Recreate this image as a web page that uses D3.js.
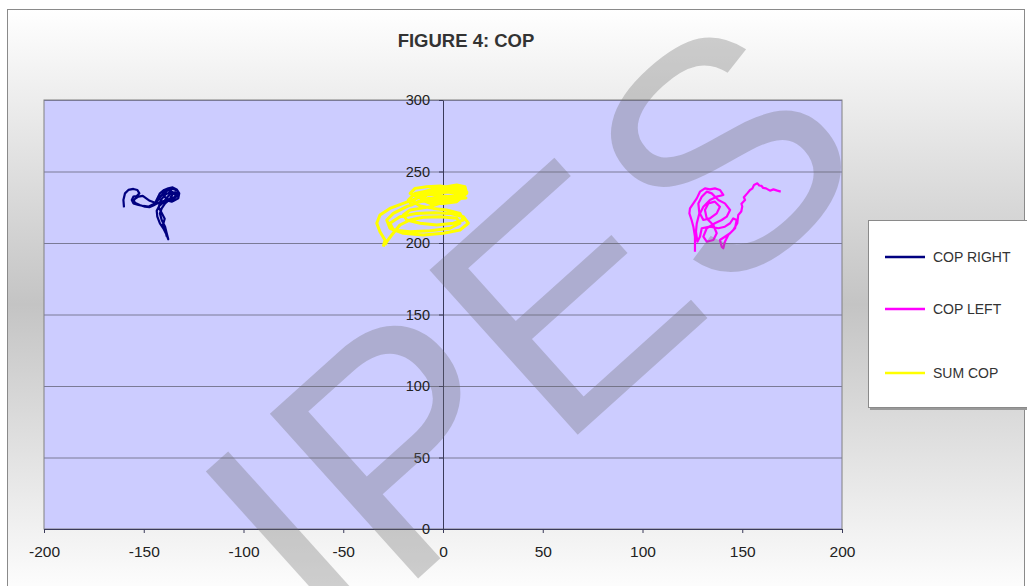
<!DOCTYPE html>
<html>
<head>
<meta charset="utf-8">
<script src="https://cdn.jsdelivr.net/npm/d3@7"></script>
<style>
  body { margin: 0; background: #fff; }
  svg { display: block; font-family: "Liberation Sans", Arial, sans-serif; }
</style>
</head>
<body>
<svg id="chart" width="1027" height="586"></svg>
<script>
// ticks
const xTicks = [-200, -150, -100, -50, 0, 50, 100, 150, 200];
const yTicks = [0, 50, 100, 150, 200, 250, 300];

// series: [x, y] pairs
const copRight = [
  [-159.9,224.9],[-160.2,230.1],[-159.4,234.7],[-157.7,237.1],[-155.2,237.8],[-153.2,237.1],
  [-152.2,234.7],[-153.5,232.9],[-155.2,232.4],[-156.0,230.1],[-155.2,227.7],[-152.7,226.6],
  [-150.2,225.9],[-147.7,225.4],[-146.0,226.6],[-144.4,227.7],[-143.2,231.2],[-141.9,234.7],
  [-139.8,237.1],[-137.7,238.2],[-135.5,238.9],[-133.5,237.5],[-132.2,234.7],[-132.7,231.2],
  [-134.3,230.1],[-136.0,228.9],[-137.7,229.6],[-139.3,227.7],[-141.0,224.2],[-141.9,220.7],
  [-141.0,216.1],[-139.3,211.4],[-138.5,206.8],[-137.7,202.6],[-138.5,205.6],[-140.2,210.3],
  [-141.9,213.7],[-143.2,218.4],[-143.5,222.5],[-142.2,226.0],[-140.2,228.4],[-138.5,231.5],
  [-136.8,234.2],[-134.3,235.5],[-133.2,233.6],[-134.8,231.9],[-136.8,231.2],[-138.8,229.8],
  [-141.0,228.9],[-143.2,227.7],[-145.2,226.2],[-147.2,225.1],[-149.4,225.4],[-152.0,226.6],
  [-153.9,227.7],[-155.2,229.3],[-154.4,230.8],[-152.7,232.4],[-150.5,233.0],[-147.0,229.5],
  [-144.0,228.0],[-141.5,232.5],[-139.5,236.0],[-137.0,237.0],[-135.0,235.0],[-136.5,232.0],
  [-136.5,230.5],[-133.5,232.5],[-133.0,236.5],[-135.5,238.0],[-138.5,236.5],[-140.0,233.0],
  [-138.0,230.5],[-135.0,229.5],[-134.0,233.5],[-136.0,236.0],[-139.0,234.0],[-141.5,230.0],
  [-142.5,225.0],[-141.0,221.0],[-139.5,217.0],[-140.5,212.0],[-139.0,208.0],[-138.5,204.5]
];

const copLeft = [
  [126.3,193.9],[126.3,204.4],[125.5,211.4],[124.6,216.1],[123.5,220.7],[123.8,224.2],
  [125.5,227.7],[127.2,231.2],[128.8,235.9],[131.3,238.2],[133.8,237.5],[136.3,238.2],
  [138.8,237.1],[140.5,233.6],[137.2,232.4],[133.8,230.1],[130.5,225.4],[128.8,220.7],
  [130.5,216.1],[133.8,217.2],[137.2,220.7],[138.8,225.4],[136.3,228.9],[133.0,227.7],
  [131.3,223.1],[132.2,217.2],[135.5,212.6],[137.2,206.8],[135.5,202.1],[132.2,200.9],
  [130.5,204.4],[132.2,210.3],[136.3,213.8],[139.7,216.1],[142.2,218.4],[143.9,223.1],
  [141.3,227.7],[138.0,230.1],[134.7,234.7],[132.2,235.9],[129.7,232.4],[128.0,227.7],
  [128.5,220.7],[127.2,213.7],[126.8,207.9],[127.5,200.9],[128.8,204.4],[129.7,210.3],
  [133.8,211.4],[138.0,210.3],[141.3,211.4],[143.9,213.8],[145.5,217.2],[147.2,216.1],
  [146.4,210.3],[143.9,206.8],[141.3,204.4],[138.8,202.1],[139.7,197.4],[140.5,196.3],
  [141.3,200.9],[143.0,205.6],[145.5,209.1],[147.5,213.8],[148.0,219.6],[149.5,222.0],
  [150.0,225.5],[149.6,227.5],[151.4,230.1],[150.8,232.0],[152.5,234.7],[153.9,237.1],
  [155.0,238.0],[155.9,240.6],[157.6,241.7],[158.5,240.2],[159.7,239.9],[160.5,238.5],
  [161.9,238.2],[163.9,236.6],[165.6,237.5],[167.6,236.6],[169.3,235.9]
];

const sumCop = [
  [-29.9,197.4],[-29.1,202.1],[-31.6,207.9],[-33.2,213.8],[-31.6,219.6],[-26.6,224.2],
  [-19.9,227.7],[-13.2,231.2],[-8.2,234.7],[-3.2,237.1],[1.8,239.4],[6.9,240.6],
  [11.0,239.4],[11.9,234.7],[8.5,231.2],[3.5,228.9],[-1.5,227.7],[-6.5,225.4],
  [-11.5,224.2],[-16.5,223.1],[-19.9,219.6],[-18.2,216.1],[-11.5,213.8],[-3.2,212.6],
  [5.2,213.8],[10.2,216.1],[8.5,220.7],[1.8,223.1],[-4.8,224.2],[-11.5,225.9],
  [-14.9,228.9],[-12.4,233.6],[-6.5,237.1],[0.2,238.2],[6.9,237.5],[9.4,233.6],
  [5.2,230.1],[-1.5,228.9],[-8.2,230.1],[-13.2,232.4],[-16.5,234.7],[-14.0,238.2],
  [-8.2,239.4],[-1.5,239.9],[3.5,238.9],[8.5,236.6],[11.0,233.6],[6.9,228.9],
  [0.2,227.7],[-6.5,227.7],[-10.7,230.1],[-8.2,233.6],[-1.5,235.2],[5.2,235.9],
  [8.5,234.3],[5.2,232.4],[-1.5,231.9],[-7.3,231.2],[-12.4,228.9],[-15.7,226.6],
  [-17.4,230.1],[-14.0,234.7],[-7.3,236.6],[-0.7,236.6],[6.0,234.7],[10.2,236.6],
  [-9.0,236.0],[-3.0,238.5],[4.0,239.5],[10.0,238.0],[12.0,235.5],[8.0,233.0],
  [2.0,232.5],[-4.0,233.5],[-10.0,235.0],[-12.0,232.0],[-6.0,229.5],[0.5,230.0],
  [7.0,231.0],[11.5,231.5],
  [7.7,232.4],[1.8,230.5],[-4.8,230.5],[-11.5,228.9],[-18.2,225.4],[-24.9,220.7],
  [-28.2,216.1],[-26.6,210.3],[-19.9,206.8],[-9.9,205.6],[0.2,206.8],[8.5,209.1],
  [12.7,213.8],[10.2,218.4],[3.5,220.7],[-4.8,221.2],[-13.2,220.7],[-21.6,218.4],
  [-26.6,213.8],[-24.9,209.1],[-16.5,207.9],[-6.5,208.6],[3.5,210.3],[8.5,213.8],
  [6.9,217.3],[-1.5,218.4],[-9.9,218.0],[-16.5,216.1],[-21.6,212.6],[-25.7,205.6],
  [-28.2,200.9],[-29.1,198.6]
];

const seriesNames = ["COP RIGHT", "COP LEFT", "SUM COP"];
const seriesColors = ["#000080", "#ff00ff", "#ffff00"];

let svg = d3.select("#chart");

// chart area gradient (white - grey - white)
const defs = svg.append("defs");
const grad = defs.append("linearGradient")
  .attr("id", "bg").attr("x1", 0).attr("y1", 0).attr("x2", 0).attr("y2", 1);
grad.append("stop").attr("offset", "0%").attr("stop-color", "#ffffff");
grad.append("stop").attr("offset", "50%").attr("stop-color", "#c4c4c4");
grad.append("stop").attr("offset", "100%").attr("stop-color", "#ffffff");

svg.append("rect")
  .attr("x", 7.5).attr("y", 9.5).attr("width", 1017).attr("height", 590)
  .attr("fill", "url(#bg)").attr("stroke", "#8a8a8a");

// scales
const x = d3.scaleLinear().domain([-200, 200]).range([44, 842]);
const y = d3.scaleLinear().domain([0, 300]).range([529, 100]);

// plot area
svg.append("rect")
  .attr("x", x(-200)).attr("y", y(300))
  .attr("width", x(200) - x(-200)).attr("height", y(0) - y(300))
  .attr("fill", "#ccccff").attr("stroke", "#808080");

// horizontal gridlines
svg.append("g").selectAll("line")
  .data(yTicks.filter(t => t > 0))
  .enter().append("line")
  .attr("x1", x(-200)).attr("x2", x(200))
  .attr("y1", d => y(d) + 0.5).attr("y2", d => y(d) + 0.5)
  .attr("stroke", "#7a7a96").attr("stroke-width", 1);

// x axis
const xAxis = svg.append("g")
  .attr("transform", "translate(0," + y(0) + ")")
  .call(d3.axisBottom(x).tickValues(xTicks).tickFormat(d => String(d))
    .tickSize(4).tickPadding(13).tickSizeOuter(0));
xAxis.select(".domain").attr("stroke", "#3a3a5a");
xAxis.selectAll(".tick line").attr("stroke", "#3a3a5a");
xAxis.selectAll("text").attr("font-size", 15.5).attr("fill", "#222")
  .attr("font-family", "'Liberation Sans', Arial, sans-serif");

// y axis crossing at x = 0
const yAxis = svg.append("g")
  .attr("transform", "translate(" + x(0) + ",0)")
  .call(d3.axisLeft(y).tickValues(yTicks).tickFormat(d => String(d))
    .tickSize(4).tickPadding(9).tickSizeOuter(0));
yAxis.select(".domain").attr("stroke", "#3a3a5a");
yAxis.selectAll(".tick line").attr("stroke", "#3a3a5a");
yAxis.selectAll("text").attr("font-size", 14.5).attr("fill", "#222")
  .attr("font-family", "'Liberation Sans', Arial, sans-serif");

// series lines
const line = d3.line().x(d => x(d[0])).y(d => y(d[1]));
[copRight, copLeft, sumCop].forEach((s, i) => {
  svg.append("path")
    .datum(s)
    .attr("d", line)
    .attr("fill", "none")
    .attr("stroke", seriesColors[i])
    .attr("stroke-width", i == 2 ? 3 : 2.2)
    .attr("stroke-linejoin", "round");
});

// title
svg.append("text")
  .attr("x", 466).attr("y", 47)
  .attr("text-anchor", "middle")
  .attr("font-size", 18.5).attr("font-weight", "bold").attr("fill", "#333")
  .text("FIGURE 4: COP");

// legend
const legend = svg.append("g");
legend.append("rect")
  .attr("x", 870).attr("y", 223).attr("width", 170).attr("height", 187)
  .attr("fill", "#999");
legend.append("rect")
  .attr("x", 868.5).attr("y", 220.5).attr("width", 170).attr("height", 187)
  .attr("fill", "#fff").attr("stroke", "#8a8a8a");
const legendY = [257, 309, 373];
seriesNames.forEach((n, i) => {
  legend.append("line")
    .attr("x1", 885).attr("x2", 925)
    .attr("y1", legendY[i]).attr("y2", legendY[i])
    .attr("stroke", seriesColors[i]).attr("stroke-width", 2.5);
  legend.append("text")
    .attr("x", 933).attr("y", legendY[i] + 5)
    .attr("font-size", 14).attr("fill", "#333")
    .text(n);
});

// watermark
svg.append("text")
  .attr("transform", "translate(332,656) rotate(-42)")
  .attr("font-size", 322)
  .attr("fill", "rgb(110,110,110)").attr("fill-opacity", 0.32)
  .attr("pointer-events", "none")
  .text("IPES");
</script>
</body>
</html>
